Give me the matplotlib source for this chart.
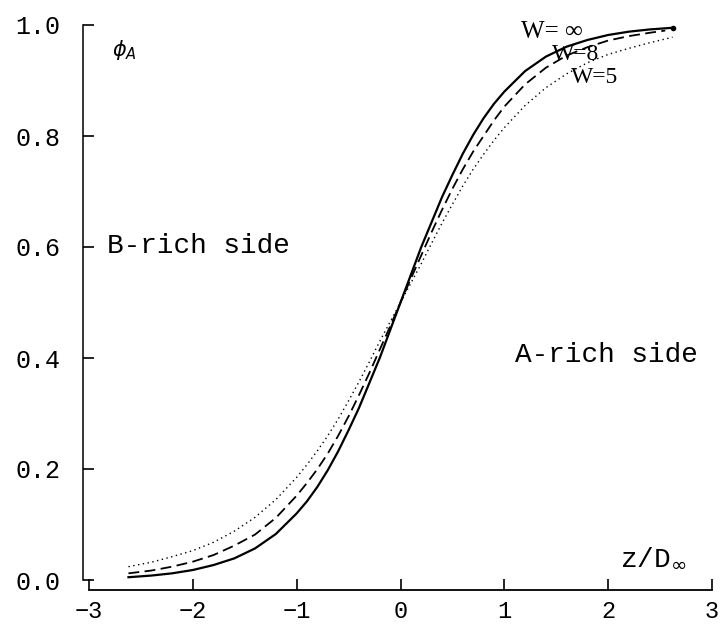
import matplotlib
matplotlib.use("Agg")
import matplotlib.pyplot as plt

# curves: phi_A against z / D_inf
z_inf = [-2.62, -2.4, -2.2, -2.0, -1.8, -1.6, -1.4, -1.2, -1.0, -0.9, -0.8, -0.7, -0.6,
         -0.5, -0.4, -0.3, -0.2, -0.1, 0.0, 0.1, 0.2, 0.3, 0.4, 0.5, 0.6, 0.7, 0.8,
         0.9, 1.0, 1.2, 1.4, 1.6, 1.8, 2.0, 2.2, 2.4, 2.62]
phi_inf = [0.005, 0.008, 0.012, 0.018, 0.027, 0.039, 0.057, 0.083, 0.12, 0.142, 0.168,
           0.198, 0.232, 0.27, 0.31, 0.355, 0.40, 0.45, 0.50, 0.55, 0.60, 0.645, 0.69,
           0.73, 0.768, 0.802, 0.832, 0.858, 0.88, 0.917, 0.943, 0.961, 0.973, 0.982,
           0.988, 0.992, 0.995]

z_w8 = [-2.62, -2.4, -2.2, -2.0, -1.8, -1.6, -1.4, -1.2, -1.0, -0.9, -0.8, -0.7, -0.6,
        -0.5, -0.4, -0.3, -0.2, -0.1, 0.0, 0.1, 0.2, 0.3, 0.4, 0.5, 0.6, 0.7, 0.8,
        0.9, 1.0, 1.2, 1.4, 1.6, 1.8, 2.0, 2.2, 2.4, 2.55]
phi_w8 = [0.012, 0.017, 0.024, 0.033, 0.045, 0.062, 0.082, 0.112, 0.152, 0.175, 0.20,
          0.228, 0.26, 0.295, 0.333, 0.373, 0.415, 0.457, 0.50, 0.543, 0.585, 0.627,
          0.667, 0.705, 0.74, 0.772, 0.80, 0.828, 0.853, 0.893, 0.923, 0.945, 0.96,
          0.972, 0.98, 0.986, 0.99]

z_w5 = [-2.62, -2.4, -2.2, -2.0, -1.8, -1.6, -1.4, -1.2, -1.0, -0.9, -0.8, -0.7, -0.6,
        -0.5, -0.4, -0.3, -0.2, -0.1, 0.0, 0.1, 0.2, 0.3, 0.4, 0.5, 0.6, 0.7, 0.8,
        0.9, 1.0, 1.2, 1.4, 1.6, 1.8, 2.0, 2.2, 2.4, 2.62]
phi_w5 = [0.024, 0.032, 0.042, 0.053, 0.068, 0.088, 0.113, 0.145, 0.185, 0.208, 0.233,
          0.26, 0.29, 0.323, 0.357, 0.393, 0.43, 0.465, 0.50, 0.535, 0.57, 0.607, 0.643,
          0.677, 0.71, 0.74, 0.767, 0.792, 0.815, 0.855, 0.887, 0.912, 0.932, 0.947,
          0.958, 0.968, 0.978]

xticks = [-3, -2, -1, 0, 1, 2, 3]
yticks = [0.0, 0.2, 0.4, 0.6, 0.8, 1.0]

mono = "Liberation Mono"
serif = "Liberation Serif"

fig = plt.figure(figsize=(7.21, 6.28), dpi=100)
ax = fig.add_axes([89 / 721, 48 / 628, 623 / 721, 555 / 628])

ax.plot(z_inf, phi_inf, color="black", lw=1.6, ls="-", clip_on=False)
ax.plot(z_w8, phi_w8, color="black", lw=1.3, ls=(0, (6, 3)), clip_on=False)
ax.plot(z_w5, phi_w5, color="black", lw=1.0, ls=(0, (1, 2.5)), clip_on=False)
ax.plot([z_inf[-1]], [phi_inf[-1]], "o", color="black", ms=3, clip_on=False)

ax.set_xlim(-3, 3)
ax.set_ylim(0, 1)

for s in ["top", "right"]:
    ax.spines[s].set_visible(False)
ax.spines["left"].set_position(("outward", 4.5))
ax.spines["bottom"].set_position(("outward", 7.5))
ax.spines["left"].set_bounds(0, 1)
ax.spines["bottom"].set_bounds(-3, 3)
ax.spines["left"].set_linewidth(1.1)
ax.spines["bottom"].set_linewidth(1.3)

ax.set_xticks(xticks)
ax.set_yticks(yticks)
ax.set_xticklabels([f"{t:d}".replace("-", "\u2212") for t in xticks])
ax.set_yticklabels([f"{t:.1f}" for t in yticks])
ax.tick_params(axis="both", direction="in", length=8, width=1.2, colors="black")
ax.tick_params(axis="y", pad=16)
ax.tick_params(axis="x", pad=7)
for lab in ax.get_yticklabels():
    lab.set_fontfamily(mono)
    lab.set_fontsize(18)
for lab in ax.get_xticklabels():
    lab.set_fontfamily(mono)
    lab.set_fontsize(17)

ax.text(-2.83, 0.602, "B-rich side", family=mono, fontsize=20, va="center", ha="left")
ax.text(1.10, 0.405, "A-rich side", family=mono, fontsize=20, va="center", ha="left")
ax.text(-2.78, 0.955, r"$\phi_A$", fontsize=15, va="center", ha="left")
ax.text(2.11, 0.04, r"z/D$_\infty$", family=mono, fontsize=20, va="center", ha="left")

ax.text(1.16, 0.987, "W= \u221e", family=serif, fontsize=18, va="center", ha="left")
ax.text(1.46, 0.946, "W=8", family=serif, fontsize=17, va="center", ha="left")
ax.text(1.64, 0.906, "W=5", family=serif, fontsize=17, va="center", ha="left")

fig.savefig("out.png", dpi=100)
